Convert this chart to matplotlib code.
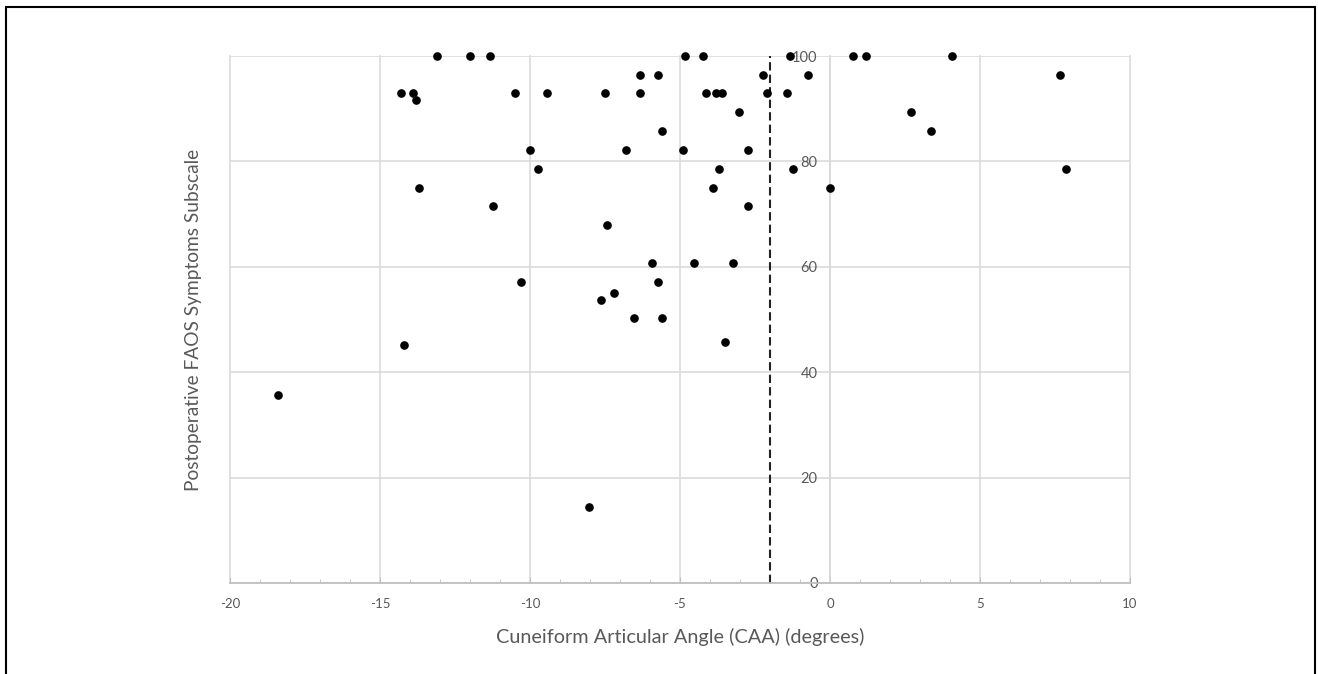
import matplotlib.pyplot as plt
from matplotlib.patches import Rectangle
from matplotlib.ticker import MultipleLocator

plt.rcParams['font.family'] = ['Lato', 'DejaVu Sans']
plt.rcParams['axes.unicode_minus'] = False

# Cuneiform articular angle (degrees) vs postoperative FAOS symptoms
caa = [-18.4, -14.3, -14.2, -13.9, -13.8, -13.7, -13.1, -12.0, -11.35, -11.25,
       -10.5, -10.3, -10.0, -9.75, -9.45, -8.05, -7.65, -7.5, -7.45, -7.2,
       -6.8, -6.55, -6.35, -6.35, -5.95, -5.75, -5.75, -5.6, -5.6, -4.9,
       -4.85, -4.55, -4.25, -4.15, -3.9, -3.8, -3.7, -3.6, -3.5, -3.25,
       -3.05, -2.75, -2.75, -2.25, -2.1, -1.45, -1.35, -1.25, -0.75, 0.0,
       0.75, 1.2, 2.7, 3.35, 4.05, 7.65, 7.85]
faos = [35.7, 92.9, 45.1, 92.9, 91.7, 75.0, 100, 100, 100, 71.5,
        92.9, 57.2, 82.1, 78.6, 92.9, 14.4, 53.7, 92.9, 68.0, 55.1,
        82.1, 50.2, 96.4, 92.9, 60.7, 96.4, 57.2, 85.7, 50.2, 82.1,
        100, 60.7, 100, 92.9, 75.0, 92.9, 78.6, 92.9, 45.7, 60.7,
        89.3, 82.1, 71.5, 96.4, 92.9, 92.9, 100, 78.6, 96.4, 75.0,
        100, 100, 89.3, 85.7, 100, 96.4, 78.6]
cutoff = -2

grey_text = '#595959'
grid_col = '#d9d9d9'

fig = plt.figure(figsize=(13.18, 6.74), dpi=100)
ax = fig.add_axes([230/1318, 91/674, 900/1318, 527/674])

ax.set_xlim(-20, 10)
ax.set_ylim(0, 100)
ax.xaxis.set_major_locator(MultipleLocator(5))
ax.xaxis.set_minor_locator(MultipleLocator(1))
ax.yaxis.set_major_locator(MultipleLocator(20))

ax.grid(True, color=grid_col, linewidth=1.1)
ax.set_axisbelow(True)
for gl in ax.get_xgridlines() + ax.get_ygridlines():
    gl.set_clip_on(False)

for s in ['top', 'right']:
    ax.spines[s].set_visible(False)
ax.spines['left'].set_position(('data', 0))
ax.spines['left'].set_color(grid_col)
ax.spines['left'].set_linewidth(1.1)
ax.spines['bottom'].set_color('#bfbfbf')
ax.spines['bottom'].set_linewidth(1.3)

ax.tick_params(axis='y', length=0, pad=9, labelsize=10.5, labelcolor=grey_text)
ax.tick_params(axis='x', which='both', direction='in', color='#bfbfbf',
               labelsize=9.5, labelcolor=grey_text, pad=11)
ax.tick_params(axis='x', which='major', length=4)
ax.tick_params(axis='x', which='minor', length=3)

ax.plot(caa, faos, 'o', color='black', markersize=5.2, zorder=3, clip_on=False)
ax.axvline(cutoff, color='#222222', linewidth=1.5, linestyle=(0, (4, 2)), zorder=2)

ax.set_xlabel('Cuneiform Articular Angle (CAA) (degrees)', fontsize=14.3, color=grey_text)
ax.set_ylabel('Postoperative FAOS Symptoms Subscale', fontsize=13.8, color=grey_text)
ax.xaxis.set_label_coords(0.5, -0.085)
ax.yaxis.set_label_coords(-0.031, 0.5)

# outer frame around the figure (bottom edge falls outside the image)
fig.add_artist(Rectangle((6/1318, -0.05), 1315/1318 - 6/1318, 1.05 - 7/674,
                         transform=fig.transFigure, fill=False,
                         edgecolor='black', linewidth=1.5))

fig.savefig('out.png', dpi=100)
